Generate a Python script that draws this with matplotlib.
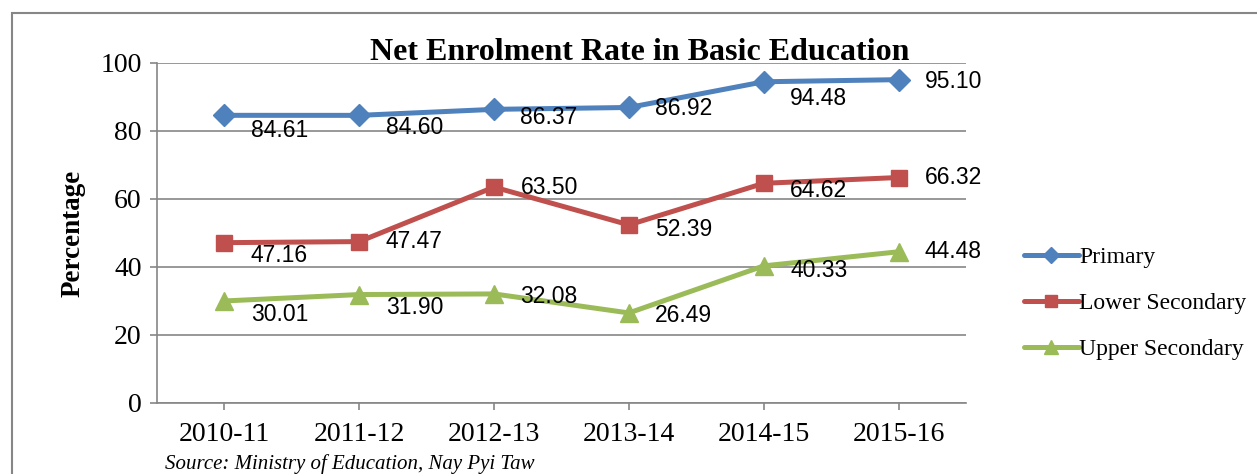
import matplotlib
matplotlib.use("Agg")
import matplotlib.pyplot as plt
from matplotlib.patches import Rectangle

years = ["2010-11", "2011-12", "2012-13", "2013-14", "2014-15", "2015-16"]
primary = [84.61, 84.60, 86.37, 86.92, 94.48, 95.10]
lower_sec = [47.16, 47.47, 63.50, 52.39, 64.62, 66.32]
upper_sec = [30.01, 31.90, 32.08, 26.49, 40.33, 44.48]

# label vertical offsets in points (positive = down), per point
prim_dy = [11, 9, 6, 1, 12, 1]
low_dy = [9, 0, 0, 3, 5, 0]
upp_dy = [10, 9, 2, 2, 3, 0]

W, H = 1257, 474
fig = plt.figure(figsize=(W / 100, H / 100), dpi=100)
ax = fig.add_axes([157 / W, 1 - 403 / H, (966 - 157) / W, (403 - 63) / H])

serif = "Liberation Serif"
sans = "Liberation Sans"
grey = "#868686"

x = list(range(len(years)))
series = [
    ("Primary", primary, "#4F81BD", "D", 11, prim_dy),
    ("Lower Secondary", lower_sec, "#C0504D", "s", 12, low_dy),
    ("Upper Secondary", upper_sec, "#9BBB59", "^", 13, upp_dy),
]
for name, vals, col, mk, ms, dys in series:
    ax.plot(x, vals, color=col, lw=3.6, marker=mk, markersize=ms,
            label=name, solid_capstyle="round")
    for xi, v, dy in zip(x, vals, dys):
        ax.annotate(f"{v:.2f}", (xi, v), xytext=(19, -dy), textcoords="offset points",
                    ha="left", va="center", fontsize=16.5, family=sans, color="black")

ax.set_xlim(-0.5, 5.5)
ax.set_ylim(0, 100)
ax.set_yticks(range(0, 101, 20))
ax.set_xticks(x)
ax.set_xticklabels(years)
ax.grid(axis="y", color=grey, lw=1.2)
ax.set_axisbelow(True)
for s in ["top", "right"]:
    ax.spines[s].set_visible(False)
for s in ["left", "bottom"]:
    ax.spines[s].set_color(grey)
    ax.spines[s].set_linewidth(1.2)
ax.tick_params(axis="both", colors=grey, length=5, width=1.2, labelcolor="black",
               labelsize=20)
for lab in ax.get_xticklabels() + ax.get_yticklabels():
    lab.set_family(serif)
ax.tick_params(axis="x", pad=9)
ax.tick_params(axis="y", pad=6)

fig.text(640 / W, 1 - 52 / H, "Net Enrolment Rate in Basic Education",
         ha="center", va="center", fontsize=23, fontweight="bold", family=serif)
fig.text(73 / W, 1 - 233 / H, "Percentage", rotation=90, ha="center", va="center",
         fontsize=19.5, fontweight="bold", family=serif)
fig.text(165 / W, 1 - 464 / H, "Source: Ministry of Education, Nay Pyi Taw",
         ha="left", va="center", fontsize=15, style="italic", family=serif)

leg = fig.legend(loc="upper left", bbox_to_anchor=(1003 / W, 1 - 225 / H),
                 frameon=False, prop={"family": serif, "size": 17},
                 handlelength=2.3, handletextpad=0.02, labelspacing=1.05,
                 markerscale=0.75)

fig.patches.append(Rectangle((12 / W, -0.1), 1.2, 1 - 13 / H + 0.1,
                             transform=fig.transFigure, fill=False,
                             edgecolor=grey, lw=1.5))

fig.savefig("out.png", dpi=100)
